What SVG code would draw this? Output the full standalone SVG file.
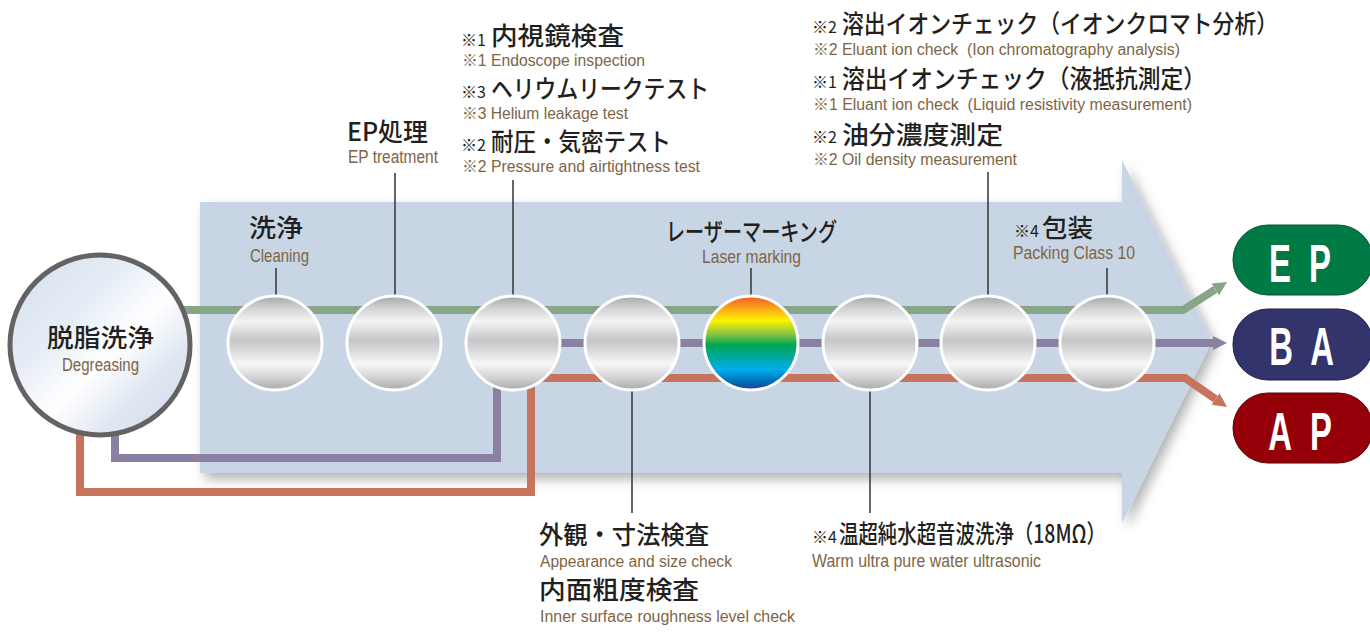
<svg xmlns="http://www.w3.org/2000/svg" width="1370" height="642" viewBox="0 0 1370 642">
  <defs>
    <filter id="arrowShadow" x="-5%" y="-10%" width="112%" height="125%">
      <feDropShadow dx="5" dy="6" stdDeviation="6" flood-color="#000" flood-opacity="0.3"/>
    </filter>
    <linearGradient id="metal" x1="0" y1="0" x2="0" y2="1">
      <stop offset="0" stop-color="#a6a6a9"/>
      <stop offset="0.12" stop-color="#cfcfd1"/>
      <stop offset="0.27" stop-color="#f4f4f5"/>
      <stop offset="0.47" stop-color="#c6c6c8"/>
      <stop offset="0.56" stop-color="#d6d6d8"/>
      <stop offset="0.72" stop-color="#f7f7f7"/>
      <stop offset="0.88" stop-color="#cfcfd1"/>
      <stop offset="1" stop-color="#a9a9ac"/>
    </linearGradient>
    <linearGradient id="rainbow" x1="0" y1="0" x2="0" y2="1">
      <stop offset="0" stop-color="#f05a22"/>
      <stop offset="0.13" stop-color="#f9a51a"/>
      <stop offset="0.26" stop-color="#fff200"/>
      <stop offset="0.4" stop-color="#8dc63f"/>
      <stop offset="0.52" stop-color="#00a651"/>
      <stop offset="0.65" stop-color="#00a99d"/>
      <stop offset="0.78" stop-color="#00aeef"/>
      <stop offset="0.9" stop-color="#0072bc"/>
      <stop offset="1" stop-color="#1d3f8f"/>
    </linearGradient>
    <linearGradient id="degrease" x1="0" y1="0" x2="1" y2="1">
      <stop offset="0" stop-color="#d3deed"/>
      <stop offset="0.35" stop-color="#e6edf6"/>
      <stop offset="0.55" stop-color="#ffffff"/>
      <stop offset="0.75" stop-color="#dfe7f2"/>
      <stop offset="1" stop-color="#ccd9ea"/>
    </linearGradient>
    <marker id="headGreen" viewBox="0 0 14 14" refX="0" refY="7" markerWidth="14" markerHeight="14" markerUnits="userSpaceOnUse" orient="auto">
      <path d="M0,0 L14,7 L0,14 Z" fill="#87a687"/>
    </marker>
    <marker id="headPurple" viewBox="0 0 14 14" refX="0" refY="7" markerWidth="14" markerHeight="14" markerUnits="userSpaceOnUse" orient="auto">
      <path d="M0,0 L14,7 L0,14 Z" fill="#8a80a1"/>
    </marker>
    <marker id="headOrange" viewBox="0 0 14 14" refX="0" refY="7" markerWidth="14" markerHeight="14" markerUnits="userSpaceOnUse" orient="auto">
      <path d="M0,0 L14,7 L0,14 Z" fill="#c6745d"/>
    </marker>
    <style>
      .jp { font-family: "Noto Sans CJK JP", "Noto Sans CJK SC", sans-serif; font-size: 25px; font-weight: 500; fill: #231f20; }
      .mk { font-family: "Noto Sans CJK JP", sans-serif; font-size: 16px; fill: #231f20; }
      .en { font-family: "Liberation Sans", "Noto Sans CJK JP", sans-serif; font-size: 16px; fill: #7d6546; white-space: pre; }
      .en.big { font-size: 17.5px; }
      .lead { stroke: #333; stroke-width: 1.5; fill: none; }
      .flow { fill: none; stroke-width: 8; stroke-linejoin: miter; }
      .sphere { fill: url(#metal); stroke: #fff; stroke-width: 3; }
      .badge-t { font-family: "Liberation Sans", sans-serif; font-weight: bold; font-size: 53px; fill: #fff; text-anchor: middle; }
    </style>
  </defs>

  <!-- big process arrow -->
  <path id="process-arrow" d="M200,202 H1122 V160 L1212,341 L1122,523 V473 H200 Z" fill="#c8d5e4" filter="url(#arrowShadow)"/>

  <!-- connectors -->
  <g id="connectors">
    <path class="flow" stroke="#87a687" d="M180,310 H1183 L1215.2,289.5" marker-end="url(#headGreen)"/>
    <path class="flow" stroke="#8a80a1" d="M115,430 V458 H497 V343 H1213" marker-end="url(#headPurple)"/>
    <path class="flow" stroke="#c6745d" d="M80,425 V492 H531 V378 H1185 L1215.5,399" marker-end="url(#headOrange)"/>
    <g id="leaders">
      <line class="lead" x1="276" y1="268" x2="276" y2="296"/>
      <line class="lead" x1="395" y1="173" x2="395" y2="296"/>
      <line class="lead" x1="513" y1="180" x2="513" y2="296"/>
      <line class="lead" x1="751" y1="268" x2="751" y2="296"/>
      <line class="lead" x1="988" y1="172" x2="988" y2="296"/>
      <line class="lead" x1="1107" y1="268" x2="1107" y2="296"/>
      <line class="lead" x1="632" y1="391" x2="632" y2="513"/>
      <line class="lead" x1="870" y1="391" x2="870" y2="513"/>
    </g>
  </g>

  <!-- degreasing -->
  <g id="degreasing">
    <circle cx="100" cy="345" r="90" fill="url(#degrease)" stroke="#636363" stroke-width="5"/>
    <text class="jp" x="47" y="347" font-size="26" textLength="107" lengthAdjust="spacingAndGlyphs">脱脂洗浄</text>
    <text class="en big" x="62" y="371" textLength="77" lengthAdjust="spacingAndGlyphs">Degreasing</text>
  </g>

  <!-- process stations -->
  <g id="cleaning">
    <circle class="sphere" cx="275" cy="343" r="47"/>
    <text class="jp" x="249" y="237" textLength="54" lengthAdjust="spacingAndGlyphs">洗浄</text>
    <text class="en big" x="250" y="262" textLength="59" lengthAdjust="spacingAndGlyphs">Cleaning</text>
  </g>
  <g id="ep-treatment">
    <circle class="sphere" cx="394" cy="343" r="47"/>
    <text class="jp" x="347" y="141" font-size="23" textLength="81" lengthAdjust="spacingAndGlyphs">EP処理</text>
    <text class="en big" x="348" y="163" textLength="90" lengthAdjust="spacingAndGlyphs">EP treatment</text>
  </g>
  <g id="inspection">
    <circle class="sphere" cx="513" cy="343" r="47"/>
    <text class="mk" x="461" y="46">※1</text>
    <text class="jp" x="491" y="45" textLength="133" lengthAdjust="spacingAndGlyphs">内視鏡検査</text>
    <text class="en" x="462" y="66" textLength="183" lengthAdjust="spacingAndGlyphs">※1 Endoscope inspection</text>
    <text class="mk" x="461" y="98">※3</text>
    <text class="jp" x="491" y="98" textLength="218" lengthAdjust="spacingAndGlyphs">ヘリウムリークテスト</text>
    <text class="en" x="462" y="119" textLength="166" lengthAdjust="spacingAndGlyphs">※3 Helium leakage test</text>
    <text class="mk" x="461" y="151">※2</text>
    <text class="jp" x="491" y="151" textLength="180" lengthAdjust="spacingAndGlyphs">耐圧・気密テスト</text>
    <text class="en" x="462" y="172" textLength="238" lengthAdjust="spacingAndGlyphs">※2 Pressure and airtightness test</text>
  </g>
  <g id="appearance">
    <circle class="sphere" cx="632" cy="343" r="47"/>
    <text class="jp" x="539" y="544" textLength="170" lengthAdjust="spacingAndGlyphs">外観・寸法検査</text>
    <text class="en" x="540" y="567" textLength="192" lengthAdjust="spacingAndGlyphs">Appearance and size check</text>
    <text class="jp" x="539" y="599" textLength="160" lengthAdjust="spacingAndGlyphs">内面粗度検査</text>
    <text class="en" x="540" y="622" textLength="255" lengthAdjust="spacingAndGlyphs">Inner surface roughness level check</text>
  </g>
  <g id="laser-marking">
    <circle cx="751" cy="343" r="47" fill="url(#rainbow)" stroke="#fff" stroke-width="3"/>
    <text class="jp" x="666" y="241" font-size="24" textLength="171" lengthAdjust="spacingAndGlyphs">レーザーマーキング</text>
    <text class="en big" x="702" y="263" textLength="99" lengthAdjust="spacingAndGlyphs">Laser marking</text>
  </g>
  <g id="ultrasonic">
    <circle class="sphere" cx="870" cy="343" r="47"/>
    <text class="mk" x="812" y="543">※4</text>
    <text class="jp" x="839" y="543" textLength="267" lengthAdjust="spacingAndGlyphs">温超純水超音波洗浄（18MΩ）</text>
    <text class="en big" x="812" y="567" textLength="229" lengthAdjust="spacingAndGlyphs">Warm ultra pure water ultrasonic</text>
  </g>
  <g id="eluant-check">
    <circle class="sphere" cx="988" cy="343" r="47"/>
    <text class="mk" x="812" y="33">※2</text>
    <text class="jp" x="842" y="33" textLength="436" lengthAdjust="spacingAndGlyphs">溶出イオンチェック（イオンクロマト分析）</text>
    <text class="en" x="813" y="55" textLength="367" lengthAdjust="spacingAndGlyphs">※2 Eluant ion check  (Ion chromatography analysis)</text>
    <text class="mk" x="812" y="88">※1</text>
    <text class="jp" x="842" y="88" textLength="364" lengthAdjust="spacingAndGlyphs">溶出イオンチェック（液抵抗測定）</text>
    <text class="en" x="813" y="110" textLength="379" lengthAdjust="spacingAndGlyphs">※1 Eluant ion check  (Liquid resistivity measurement)</text>
    <text class="mk" x="812" y="143">※2</text>
    <text class="jp" x="842" y="144" textLength="161" lengthAdjust="spacingAndGlyphs">油分濃度測定</text>
    <text class="en" x="813" y="165" textLength="204" lengthAdjust="spacingAndGlyphs">※2 Oil density measurement</text>
  </g>
  <g id="packing">
    <circle class="sphere" cx="1107" cy="343" r="47"/>
    <text class="mk" x="1014" y="237">※4</text>
    <text class="jp" x="1042" y="237" textLength="51" lengthAdjust="spacingAndGlyphs">包装</text>
    <text class="en big" x="1013" y="259" textLength="122" lengthAdjust="spacingAndGlyphs">Packing Class 10</text>
  </g>

  <!-- finish grades -->
  <g id="grade-ep">
    <rect x="1233" y="225" width="140" height="70" rx="35" fill="#007a45" stroke="#0a4f30" stroke-width="1"/>
    <text class="badge-t" transform="translate(1280,282) scale(0.62,1)">E</text>
    <text class="badge-t" transform="translate(1320,282) scale(0.62,1)">P</text>
  </g>
  <g id="grade-ba">
    <rect x="1233" y="309" width="140" height="71" rx="35" fill="#32346b" stroke="#1e1f45" stroke-width="1"/>
    <text class="badge-t" transform="translate(1281,365) scale(0.62,1)">B</text>
    <text class="badge-t" transform="translate(1322,365) scale(0.62,1)">A</text>
  </g>
  <g id="grade-ap">
    <rect x="1233" y="393" width="140" height="70" rx="35" fill="#950008" stroke="#5e0005" stroke-width="1"/>
    <text class="badge-t" transform="translate(1280,450) scale(0.62,1)">A</text>
    <text class="badge-t" transform="translate(1321,450) scale(0.62,1)">P</text>
  </g>
</svg>
